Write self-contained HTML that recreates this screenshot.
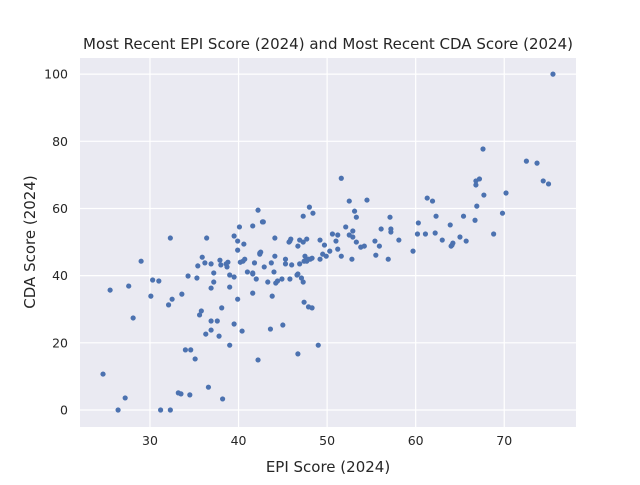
<!DOCTYPE html>
<html><head><meta charset="utf-8"><style>
body{margin:0;background:#fff;width:640px;height:480px;overflow:hidden}
text{font-family:"DejaVu Sans","Liberation Sans",sans-serif;fill:#262626}
</style></head><body>
<svg id="chart" width="640" height="480" xmlns="http://www.w3.org/2000/svg"></svg>
<script>
const epi=[42.2,32.3,36.4,40.1,41.6,39.5,39.9,40.6,39.9,29.0,35.9,36.2,35.4,36.9,37.9,38.0,38.6,38.8,38.7,40.2,40.5,40.7,41.8,42.4,37.2,41.0,41.6,41.6,42.0,39.0,39.5,34.3,35.3,37.2,36.9,39.0,30.3,31.0,25.5,27.6,30.1,32.5,32.1,33.6,39.9,41.6,38.1,35.8,35.6,28.1,36.9,37.6,39.5,36.9,36.3,37.8,40.4,39.0,34.0,34.6,35.1,42.2,24.7,36.6,33.2,33.5,34.5,38.2,27.2,26.4,31.2,32.3,
48.0,47.3,48.4,42.7,42.8,44.1,45.9,45.7,45.8,46.9,47.3,47.7,49.2,46.7,49.7,42.4,42.5,44.1,43.7,45.3,45.3,46.0,46.9,42.9,47.5,47.4,47.6,47.9,48.1,48.3,47.7,49.2,49.5,49.9,44.0,44.9,45.8,43.3,44.2,44.4,46.6,46.7,47.1,47.3,43.8,47.4,47.9,48.3,45.0,43.6,49.0,46.7,
75.5,67.6,72.5,73.7,74.4,75.0,66.8,67.2,66.8,67.7,66.9,70.2,69.8,68.8,66.7,51.6,52.5,54.5,53.1,53.3,57.1,61.3,61.9,62.3,65.4,60.3,63.9,52.1,50.6,51.2,52.5,52.9,52.9,56.1,57.2,57.2,51.0,53.3,55.4,58.1,60.2,61.1,62.2,63.0,65.0,65.7,64.0,64.2,64.1,50.3,51.2,51.6,52.8,53.8,54.2,55.9,55.5,56.9,59.7];
const cda=[59.5,51.2,51.2,54.5,54.8,51.8,50.3,49.4,47.6,44.3,45.5,43.8,42.9,43.5,44.6,43.2,43.5,44.0,42.6,44.0,44.3,44.9,43.8,46.4,40.8,41.1,40.8,40.5,39.0,40.2,39.6,39.9,39.3,38.1,36.3,36.6,38.7,38.4,35.7,36.9,33.9,33.0,31.3,34.5,33.0,34.8,30.4,29.5,28.3,27.4,26.5,26.5,25.6,23.8,22.6,22.0,23.5,19.3,17.9,17.9,15.2,14.9,10.7,6.8,5.1,4.8,4.5,3.3,3.6,0,0,0,
60.4,57.7,58.6,56.0,56.0,51.2,50.9,50.0,50.3,50.6,50.0,50.9,50.6,48.8,49.1,46.7,47.0,45.8,43.8,44.9,43.5,43.2,43.5,42.6,45.8,44.3,44.6,44.9,44.9,45.2,44.3,44.9,46.4,45.8,41.1,39.0,39.0,38.1,37.8,38.4,40.2,40.5,39.3,38.1,33.9,32.1,30.7,30.4,25.3,24.1,19.3,16.7,
100,77.7,74.1,73.5,68.2,67.3,68.2,68.8,67.0,64.0,60.7,64.6,58.6,52.4,56.5,69.0,62.2,62.5,59.2,57.4,57.4,63.1,62.2,57.7,57.7,55.7,55.1,54.5,52.4,52.1,52.1,53.3,51.5,53.9,53.9,53.0,50.3,50.0,50.3,50.6,52.4,52.4,52.7,50.6,51.5,50.3,48.8,49.7,49.1,47.3,47.9,45.8,44.9,48.5,48.8,48.8,46.1,44.9,47.3];
const xTicks=[30,40,50,60,70];
const yTicks=[0,20,40,60,80,100];
const L=80,R=576,T=58,B=427;
const xMin=22.1,xMax=78.1,yMin=-5.06,yMax=104.8;
const sx=v=>L+(v-xMin)/(xMax-xMin)*(R-L);
const sy=v=>B-(v-yMin)/(yMax-yMin)*(B-T);
const svg=document.getElementById('chart');const NS='http://www.w3.org/2000/svg';
function mk(t,a,p){const e=document.createElementNS(NS,t);for(const k in a)e.setAttribute(k,a[k]);(p||svg).appendChild(e);return e;}
const bg=mk('rect',{x:L,y:T,width:R-L,height:B-T,fill:'#eaeaf2'});


xTicks.forEach(v=>{const x=sx(v);
const g=mk('line',{x1:x,x2:x,y1:T,y2:B,stroke:'#fff','stroke-width':1.2});


const t=mk('text',{x:x,y:B+18,'text-anchor':'middle','font-size':12.5});t.textContent=v;

});
yTicks.forEach(v=>{const y=sy(v);
const g=mk('line',{x1:L,x2:R,y1:y,y2:y,stroke:'#fff','stroke-width':1.2});


const t=mk('text',{x:L-12,y:y+4.5,'text-anchor':'end','font-size':12.5});t.textContent=v;

});
epi.forEach((v,i)=>{const c=mk('circle',{cx:sx(v),cy:sy(cda[i]),r:2.6,fill:'#4c72b0'});

});
const ti=mk('text',{x:328,y:49,'text-anchor':'middle','font-size':15});ti.textContent='Most Recent EPI Score (2024) and Most Recent CDA Score (2024)';


const xl=mk('text',{x:328,y:472,'text-anchor':'middle','font-size':15});xl.textContent='EPI Score (2024)';


const yl=mk('text',{x:0,y:0,'text-anchor':'middle','font-size':15,transform:'translate(35,242) rotate(-90)'});yl.textContent='CDA Score (2024)';


</script></body></html>
